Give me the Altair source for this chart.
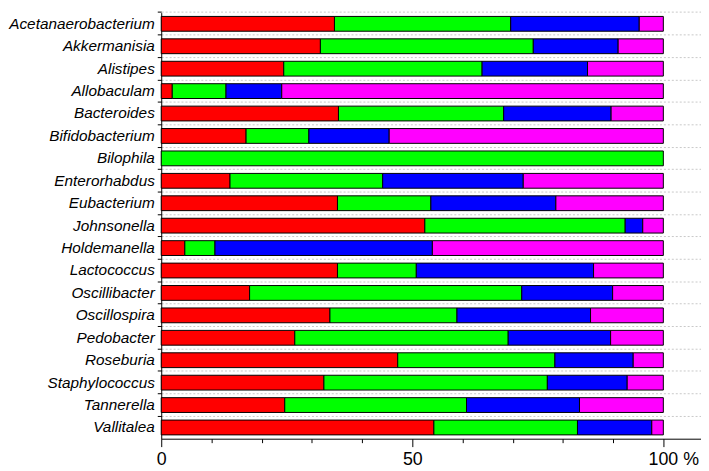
import altair as alt
import pandas as pd

categories = [
    "Acetanaerobacterium", "Akkermanisia", "Alistipes", "Allobaculam",
    "Bacteroides", "Bifidobacterium", "Bilophila", "Enterorhabdus",
    "Eubacterium", "Johnsonella", "Holdemanella", "Lactococcus",
    "Oscillibacter", "Oscillospira", "Pedobacter", "Roseburia",
    "Staphylococcus", "Tannerella", "Vallitalea",
]
series = ["Group 1", "Group 2", "Group 3", "Group 4"]
colors = ["#ff0000", "#00ff00", "#0000ff", "#ff00ff"]

red = [34.5, 31.7, 24.4, 2.2, 35.3, 16.9, 0.0, 13.7, 35.1, 52.5, 4.7, 35.1, 17.6, 33.6, 26.6, 47.1, 32.4, 24.6, 54.3]
green = [35.1, 42.4, 39.5, 10.7, 32.9, 12.5, 100.0, 30.4, 18.6, 39.9, 6.0, 15.7, 54.2, 25.3, 42.5, 31.3, 44.5, 36.2, 28.6]
blue = [25.6, 16.9, 21.0, 11.1, 21.4, 16.0, 0.0, 28.0, 24.9, 3.5, 43.3, 35.3, 18.1, 26.6, 20.4, 15.6, 15.9, 22.5, 14.8]
magenta = [4.8, 9.0, 15.1, 76.0, 10.4, 54.6, 0.0, 27.9, 21.4, 4.1, 46.0, 13.9, 10.1, 14.5, 10.5, 6.0, 7.2, 16.7, 2.3]

x_ticks = [0, 10, 20, 30, 40, 50, 60, 70, 80, 90, 100]

rows = []
for i, c in enumerate(categories):
    for k, vals in enumerate([red, green, blue, magenta]):
        v = vals[i]
        if v > 0:
            rows.append({"taxon": c, "series": series[k], "order": k, "value": v})
df = pd.DataFrame(rows)

chart = (
    alt.Chart(df)
    .mark_bar(height={"band": 0.66}, stroke="black", strokeWidth=1)
    .encode(
        x=alt.X(
            "value:Q",
            stack="zero",
            scale=alt.Scale(domain=[0, 107.5], nice=False),
            axis=alt.Axis(
                values=x_ticks,
                title=None,
                grid=False,
                domainColor="black",
                tickColor="black",
                tickSize={"condition": {"test": "datum.value % 50 === 0", "value": 8}, "value": 4},
                labelExpr="datum.value === 100 ? '100 %' : (datum.value % 50 === 0 ? datum.label : '')",
                labelOffset={"condition": {"test": "datum.value === 100", "value": 10}, "value": 0},
                labelFont="Liberation Sans",
                labelFontSize=18,
                labelColor="black",
                labelPadding=4,
                labelFlush=False,
                labelOverlap=False,
            ),
        ),
        y=alt.Y(
            "taxon:N",
            sort=categories,
            scale=alt.Scale(paddingInner=0, paddingOuter=0),
            axis=alt.Axis(
                title=None,
                bandPosition=0,
                tickSize=4,
                tickColor="black",
                domainColor="black",
                grid=True,
                gridDash=[2, 2],
                gridColor="#c8c8c8",
                labelFont="Liberation Sans",
                labelFontStyle="italic",
                labelFontSize=15.5,
                labelColor="black",
                labelPadding=3,
                labelLimit=0,
            ),
        ),
        color=alt.Color("series:N", scale=alt.Scale(domain=series, range=colors), legend=None),
        order=alt.Order("order:Q"),
    )
    .properties(width=546, height=431, padding={"left": 0, "top": 0, "right": 0, "bottom": 0})
    .configure_view(stroke=None)
)

chart.save("out.html", embed_options={"renderer": "svg", "actions": False})
